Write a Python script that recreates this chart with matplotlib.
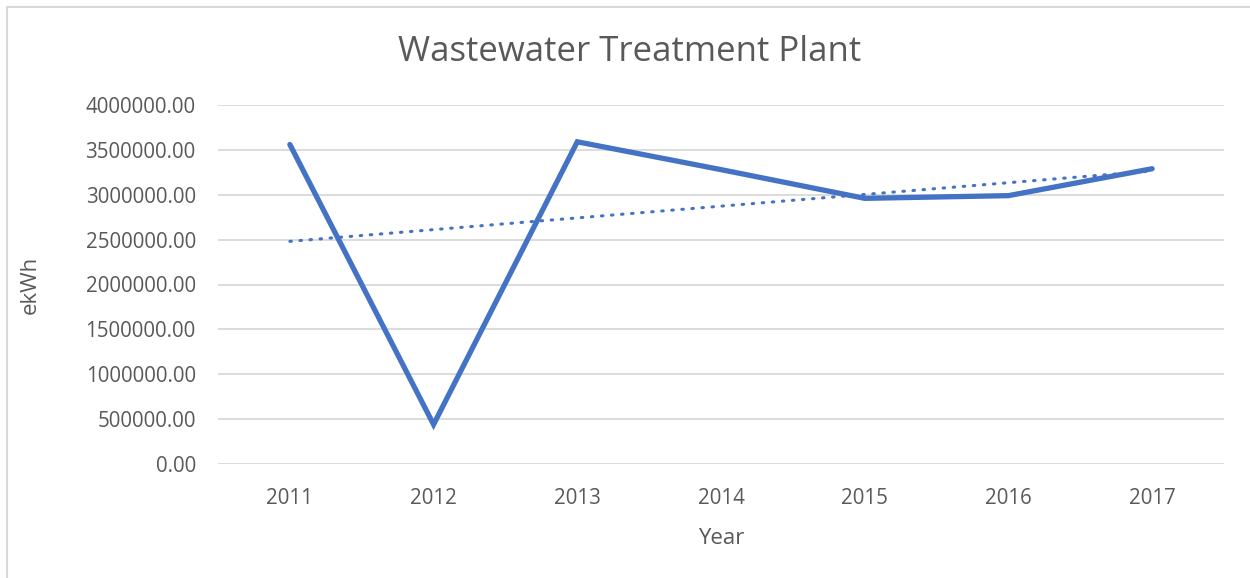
import matplotlib
matplotlib.use("Agg")
import matplotlib.pyplot as plt
from matplotlib.patches import Rectangle
import numpy as np

years = ["2011", "2012", "2013", "2014", "2015", "2016", "2017"]
ekwh = [3560000, 440000, 3590000, 3280000, 2960000, 2990000, 3290000]
yticks = [0, 500000, 1000000, 1500000, 2000000, 2500000, 3000000, 3500000, 4000000]

plt.rcParams['font.family'] = ['Open Sans', 'DejaVu Sans']
W, H = 1250, 578
fig = plt.figure(figsize=(W / 100, H / 100), dpi=100)
fig.patch.set_facecolor('white')

ax = fig.add_axes([218 / W, 1 - 464 / H, (1224 - 218) / W, (464 - 105) / H])
x = np.arange(len(years))
blue = '#4472C4'
ax.plot(x, ekwh, color=blue, lw=3.8, solid_joinstyle='miter', solid_capstyle='round', zorder=3)
coef = np.polyfit(x, ekwh, 1)
trend = np.polyval(coef, x)
ax.plot(x, trend, color=blue, lw=2.2, linestyle=(0, (0.5, 2.8)), dash_capstyle='round', zorder=2)

ax.set_xlim(-0.5, len(years) - 0.5)
ax.set_ylim(0, 4000000)
ax.set_yticks(yticks)
ax.set_yticklabels([f"{v:.2f}" for v in yticks])
ax.set_xticks(x)
ax.set_xticklabels(years)
ax.grid(axis='y', color='#d9d9d9', lw=1.3)
ax.set_axisbelow(True)
for s in ax.spines.values():
    s.set_visible(False)
ax.tick_params(axis='both', length=0, colors='#595959', labelsize=14.8)
ax.tick_params(axis='y', pad=16)
ax.tick_params(axis='x', pad=17)

ax.set_xlabel('Year', fontsize=16, color='#595959', labelpad=14)
ax.set_ylabel('ekWh', fontsize=16, color='#595959', labelpad=32)
fig.text(630 / W, 1 - 52 / H, 'Wastewater Treatment Plant', ha='center', va='center',
         fontsize=25, color='#595959')

fig.patches.append(Rectangle((7 / W, -0.1), 1.2, 1 - 7 / H + 0.1, transform=fig.transFigure,
                             fill=False, edgecolor='#d9d9d9', lw=1.5))

fig.savefig('out.png', dpi=100, facecolor='white')
